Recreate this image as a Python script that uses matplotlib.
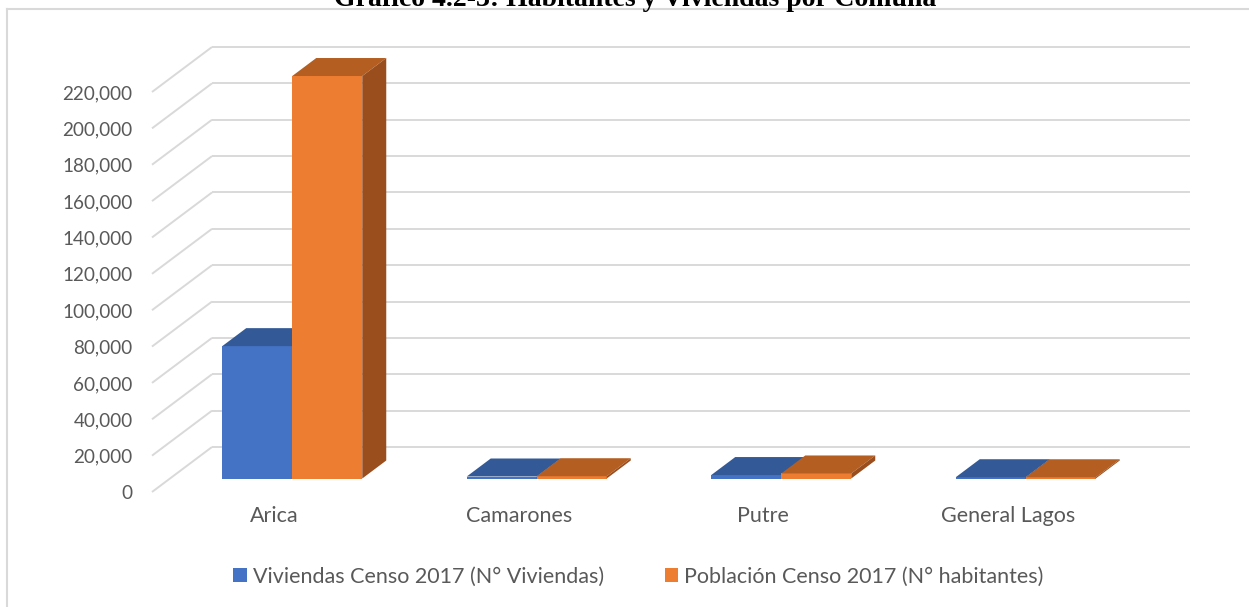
import matplotlib
matplotlib.use("Agg")
import matplotlib.pyplot as plt
from matplotlib.patches import Patch, Polygon
from matplotlib.lines import Line2D
from matplotlib.ticker import FuncFormatter

# data
comunas = ["Arica", "Camarones", "Putre", "General Lagos"]
viviendas = [72800, 1100, 1900, 700]
poblacion = [221364, 1255, 2765, 684]
series_names = ["Viviendas Censo 2017 (N° Viviendas)", "Población Censo 2017 (N° habitantes)"]
y_ticks = list(range(0, 220001, 20000))
title = "Gráfico 4.2-3: Habitantes y Viviendas por Comuna"

front_colors = ["#4472C4", "#ED7D31"]
top_colors = ["#335A97", "#B45E22"]
side_colors = ["#2E5189", "#9A4E1D"]
grid_color = "#D9D9D9"
text_color = "#595959"

W_PX, H_PX, DPI = 1249, 607, 100
fig = plt.figure(figsize=(W_PX / DPI, H_PX / DPI), dpi=DPI)
plt.rcParams["font.family"] = ["Lato", "DejaVu Sans"]

# front plane of the 3d box: x 152..1130 px, y 492..92 px
ax = fig.add_axes([152 / W_PX, 115 / H_PX, 978 / W_PX, 400 / H_PX])
ax.set_xlim(-0.5, 3.5)
ax.set_ylim(0, 220000)
for s in ax.spines.values():
    s.set_visible(False)

# oblique depth vector (full depth) in data units: 60 px right, 45 px up
DX = 60 / 244.5
DY = 45 * 220000 / 400
D0, DB = 0.3, 0.4          # bar starts at 30% depth, 40% deep
BW = 70 / 244.5            # bar width in category units

# gridlines: diagonal on the left wall + horizontal on the back wall
for v in y_ticks:
    ax.plot([-0.5, -0.5 + DX], [v, v + DY], color=grid_color, lw=1.4,
            clip_on=False, zorder=1, solid_capstyle="butt")
    ax.plot([-0.5 + DX, 3.5 + DX], [v + DY, v + DY], color=grid_color, lw=1.4,
            clip_on=False, zorder=1, solid_capstyle="butt")

ax.set_yticks(y_ticks)
ax.yaxis.set_major_formatter(FuncFormatter(lambda v, p: f"{int(v):,}"))
ax.set_xticks(range(len(comunas)))
ax.set_xticklabels(comunas)
ax.tick_params(axis="y", length=0, pad=14, labelsize=13.6, labelcolor=text_color)
ax.tick_params(axis="x", length=0, pad=10, labelsize=15.5, labelcolor=text_color)

base = D0 * DY
z = 2
for i in range(len(comunas)):
    for s, vals in enumerate([viviendas, poblacion]):
        v = vals[i]
        xl = i + D0 * DX - BW + s * BW
        xr = xl + BW
        yt = base + v
        ax.bar(xl, v, width=BW, bottom=base, align="edge", color=front_colors[s],
               zorder=z, clip_on=False, linewidth=0)
        top = [(xl, yt), (xr, yt), (xr + DB * DX, yt + DB * DY), (xl + DB * DX, yt + DB * DY)]
        ax.add_patch(Polygon(top, closed=True, facecolor=top_colors[s], edgecolor="none",
                             zorder=z, clip_on=False))
        side = [(xr, base), (xr + DB * DX, base + DB * DY), (xr + DB * DX, yt + DB * DY), (xr, yt)]
        ax.add_patch(Polygon(side, closed=True, facecolor=side_colors[s], edgecolor="none",
                             zorder=z, clip_on=False))
        z += 1

handles = [Patch(facecolor=c, edgecolor="none") for c in front_colors]
leg = fig.legend(handles, series_names, loc="center", bbox_to_anchor=(638.5 / W_PX, 1 - 577 / H_PX),
                 ncol=2, frameon=False, fontsize=15.5, handlelength=0.62, handleheight=0.62,
                 handletextpad=0.3, columnspacing=2.8, labelcolor=text_color)

# chart border (only top and left edges are inside the crop)
fig.add_artist(Line2D([6.5 / W_PX, 1], [1 - 8.5 / H_PX, 1 - 8.5 / H_PX], color=grid_color, lw=1.5))
fig.add_artist(Line2D([6.5 / W_PX, 6.5 / W_PX], [0, 1 - 8.5 / H_PX], color=grid_color, lw=1.5))

# title is mostly cut off at the top of the picture, as in the reference
fig.text(635 / W_PX, 1 - 5.5 / H_PX, title, ha="center", va="baseline",
         fontsize=20, fontweight="bold", family=["Liberation Serif", "DejaVu Serif"])

fig.savefig("out.png", dpi=DPI)
